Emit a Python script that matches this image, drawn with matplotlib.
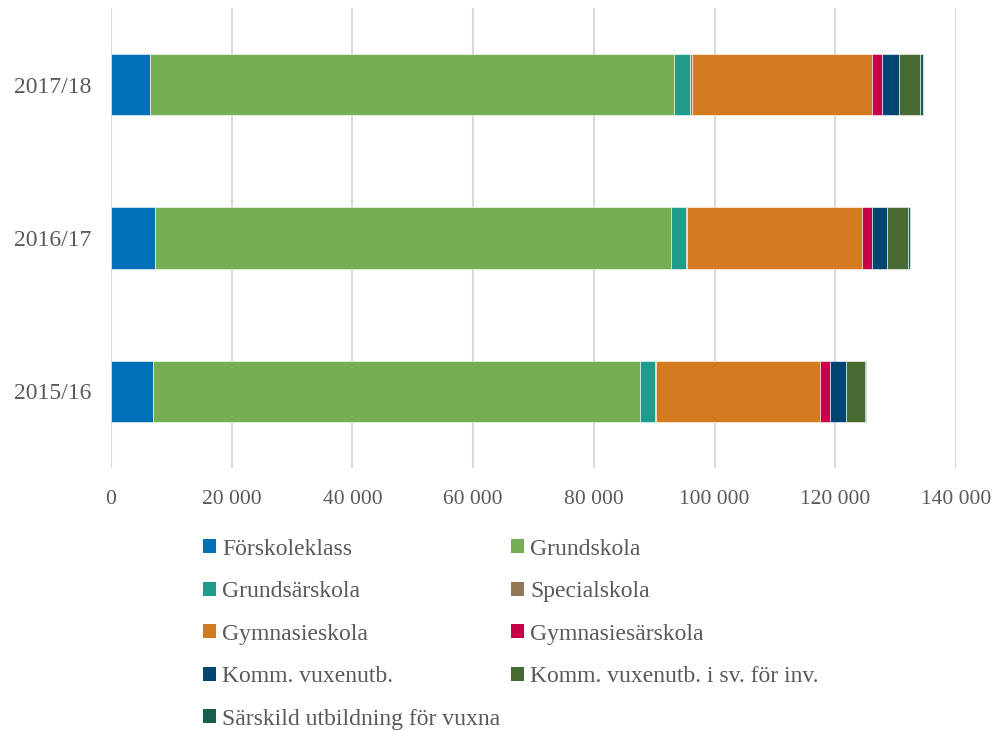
"""
Elever per skolform, stacked horizontal bars (2015/16 - 2017/18).
"""

import numpy as np
import matplotlib
matplotlib.use("Agg")
import matplotlib.pyplot as plt
from matplotlib.patches import Patch
from matplotlib.ticker import FuncFormatter

plt.rcParams["font.family"] = ["Liberation Serif", "DejaVu Serif"]

# ---- data -------------------------------------------------------
years = ["2015/16", "2016/17", "2017/18"]

forskoleklass   = [7000, 7300, 6500]
grundskola      = [80600, 85400, 86800]
grundsarskola   = [2500, 2600, 2700]
specialskola    = [200, 200, 200]
gymnasieskola   = [27200, 28900, 29900]
gymnasiesar     = [1650, 1600, 1600]
komm_vux        = [2600, 2600, 2900]
komm_vux_sfi    = [3100, 3500, 3500]
sarskild_vux    = [200, 200, 400]

labels = [
    "Förskoleklass", "Grundskola", "Grundsärskola", "Specialskola",
    "Gymnasieskola", "Gymnasiesärskola", "Komm. vuxenutb.",
    "Komm. vuxenutb. i sv. för inv.", "Särskild utbildning för vuxna",
]
series = [forskoleklass, grundskola, grundsarskola, specialskola,
          gymnasieskola, gymnasiesar, komm_vux, komm_vux_sfi, sarskild_vux]
colors = ["#0070b8", "#75ae53", "#1f9d8a", "#8f7758", "#d47a21",
          "#c8004a", "#004672", "#466a32", "#185e4e"]

TEXT = "#595959"
GRID = "#d9d9d9"

fig = plt.figure(figsize=(9.95, 7.31), dpi=100)
ax = fig.add_axes([0.1116, 0.3598, 0.8492, 0.6292])

y = np.arange(len(years))
left = np.zeros(len(years))
for name, vals, col in zip(labels, series, colors):
    vals = np.asarray(vals, dtype=float)
    ax.barh(y, vals, left=left, height=0.4, color=col,
            edgecolor="white", linewidth=0.4, zorder=3)
    left += vals

ax.set_ylim(-0.5, 2.5)
ax.set_xlim(0, 140000)
ax.set_xticks(np.arange(0, 140001, 20000))
ax.xaxis.set_major_formatter(FuncFormatter(lambda v, p: f"{int(v):,}".replace(",", " ")))
ax.set_yticks(y)
ax.set_yticklabels(years)

ax.grid(axis="x", color=GRID, lw=1.5, zorder=0)
for s in ax.spines.values():
    s.set_visible(False)
ax.tick_params(axis="both", length=0, colors=TEXT)
ax.tick_params(axis="x", pad=15.5, labelsize=15.5)
ax.tick_params(axis="y", pad=14, labelsize=17)

# legend, row-wise in reference -> reorder for column fill
order = [0, 2, 4, 6, 8, 1, 3, 5, 7]
handles = [Patch(facecolor=colors[i], edgecolor="none") for i in order]
fig.legend(handles, [labels[i] for i in order], ncol=2,
           loc="upper left", bbox_to_anchor=(0.1946, 0.276),
           frameon=False, fontsize=17, labelcolor=TEXT,
           handlelength=0.55, handleheight=0.55, handletextpad=0.25,
           columnspacing=0.47, labelspacing=0.91, borderaxespad=0)

fig.savefig("out.png", dpi=100)
